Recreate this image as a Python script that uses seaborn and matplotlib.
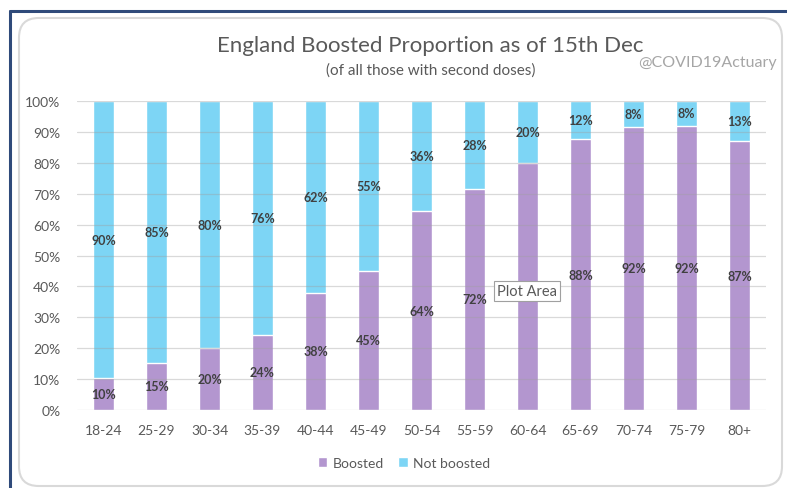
import matplotlib
matplotlib.use("Agg")
import matplotlib.pyplot as plt
from matplotlib.patches import FancyBboxPatch, Patch
from matplotlib.lines import Line2D
import seaborn as sns
import pandas as pd

age_groups = ["18-24", "25-29", "30-34", "35-39", "40-44", "45-49", "50-54",
              "55-59", "60-64", "65-69", "70-74", "75-79", "80+"]
boosted = [10.2, 15.3, 20.0, 24.4, 37.9, 45.1, 64.3, 71.6, 79.9, 87.7, 91.7, 92.0, 87.0]
not_boosted = [100 - b for b in boosted]
y_ticks = [0, 10, 20, 30, 40, 50, 60, 70, 80, 90, 100]

PURPLE = "#B396CF"
BLUE = "#7DD5F5"
TEXT = "#595959"
LABEL = "#404040"

sns.set_theme(style="white")
plt.rcParams["font.family"] = ["Lato", "DejaVu Sans"]

df = pd.DataFrame({"age": age_groups, "boosted": boosted,
                   "not_boosted": not_boosted})
df["total"] = df["boosted"] + df["not_boosted"]

fig = plt.figure(figsize=(7.87, 4.89), dpi=100)
fig.patch.set_facecolor("white")

# outer frame lines
fig.add_artist(Line2D([10 / 787, 10 / 787], [0, 1 - 12 / 489], color="#2F4A7A",
                      lw=2.2, zorder=-5))
fig.add_artist(Line2D([10 / 787, 1], [1 - 12 / 489, 1 - 12 / 489], color="#2F4A7A",
                      lw=2.2, zorder=-5))
# rounded chart area
fig.add_artist(FancyBboxPatch((19 / 787, 2 / 489), (782 - 19) / 787, (470 - 2) / 489,
                              boxstyle="round,pad=0,rounding_size=0.025",
                              transform=fig.transFigure, facecolor="white",
                              edgecolor="#D9D9D9", lw=1.5,
                              mutation_aspect=787 / 489, zorder=-4))

ax = fig.add_axes([77 / 787, 1 - 411 / 489, (766 - 77) / 787, (411 - 102) / 489])
ax.set_zorder(2)
ax.set_facecolor("none")

sns.barplot(data=df, x="age", y="total", color=BLUE, width=0.38,
            saturation=1, ax=ax, zorder=1)
sns.barplot(data=df, x="age", y="boosted", color=PURPLE, width=0.38,
            saturation=1, ax=ax, zorder=1)

ax.set_ylim(0, 100)
ax.set_xlim(-0.5, len(age_groups) - 0.5)
ax.set_yticks(y_ticks)
ax.set_yticklabels([f"{t}%" for t in y_ticks])
ax.set_xlabel("")
ax.set_ylabel("")
ax.tick_params(axis="both", length=0, colors=TEXT, labelsize=10)
ax.tick_params(axis="y", pad=12)
ax.tick_params(axis="x", pad=10)
for lbl in ax.get_xticklabels() + ax.get_yticklabels():
    lbl.set_color(TEXT)

for y in y_ticks:
    ax.axhline(y, color="#A0A0A0", lw=0.9, alpha=0.4, zorder=3)
for s in ax.spines.values():
    s.set_visible(False)

for i, (b, nb) in enumerate(zip(boosted, not_boosted)):
    ax.text(i, b / 2, f"{b:.0f}%", ha="center", va="center", fontsize=9,
            fontweight="bold", color=LABEL, zorder=4)
    ax.text(i, b + nb / 2, f"{nb:.0f}%", ha="center", va="center", fontsize=9,
            fontweight="bold", color=LABEL, zorder=4)

fig.text(430 / 787, 1 - 46 / 489, "England Boosted Proportion as of 15th Dec",
         ha="center", va="center", fontsize=16, color=TEXT)
fig.text(431 / 787, 1 - 71 / 489, "(of all those with second doses)",
         ha="center", va="center", fontsize=11, color=TEXT)
fig.text(777 / 787, 1 - 63 / 489, "@COVID19Actuary", ha="right", va="center",
         fontsize=11.5, color="#A6A6A6")

# tooltip (drawn above the axes)
fig.text(527 / 787, 1 - 292 / 489, "Plot Area", ha="center", va="center",
         fontsize=10.5, color=TEXT, zorder=10,
         bbox=dict(boxstyle="square,pad=0.2", facecolor="white",
                   edgecolor="#A0A0A0", lw=0.8))

handles = [Patch(facecolor=PURPLE, label="Boosted"),
           Patch(facecolor=BLUE, label="Not boosted")]
leg = fig.legend(handles=handles, loc="center", bbox_to_anchor=(404 / 787, 1 - 464 / 489),
                 ncol=2, frameon=False, fontsize=10, handlelength=0.7,
                 handleheight=0.7, handletextpad=0.4, columnspacing=1.0)
for t in leg.get_texts():
    t.set_color(TEXT)

fig.savefig("out.png", dpi=100)
